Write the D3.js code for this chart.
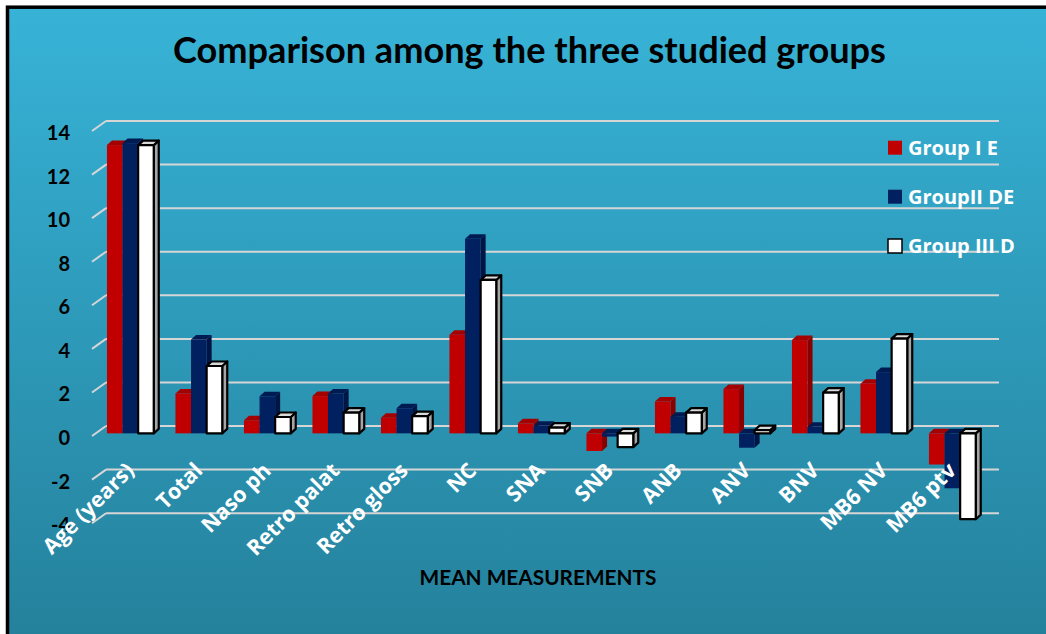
<!DOCTYPE html>
<html>
<head>
<meta charset="utf-8">
<script src="https://cdn.jsdelivr.net/npm/d3@7"></script>
<style>
  html, body { margin: 0; padding: 0; background: #ffffff; }
  svg { display: block; }
</style>
</head>
<body>
<div id="chart"></div>
<script>
// Mean measurements for the three studied groups
const categories = ["Age (years)", "Total", "Naso ph", "Retro palat", "Retro gloss", "NC",
                    "SNA", "SNB", "ANB", "ANV", "BNV", "MB6 NV", "MB6 ptv"];
const seriesNames = ["Group I E", "GroupII DE", "Group III D"];
const groupI   = [13.23, 1.83, 0.60, 1.71, 0.72, 4.53, 0.46, -0.81, 1.46, 2.03, 4.28, 2.28, -1.43];
const groupII  = [13.32, 4.31, 1.70, 1.83, 1.15, 8.93, 0.35, -0.15, 0.76, -0.66, 0.30, 2.81, -2.52];
const groupIII = [13.23, 3.09, 0.75, 0.95, 0.79, 7.04, 0.26, -0.63, 0.95, 0.15, 1.87, 4.35, -3.94];
const yTicks = [-4, -2, 0, 2, 4, 6, 8, 10, 12, 14];

const seriesValues = [groupI, groupII, groupIII];

const W = 1046, H = 634;
const svg = d3.select("#chart").append("svg").attr("width", W).attr("height", H);

// background panel with vertical gradient and black frame
const defs = svg.append("defs");
const grad = defs.append("linearGradient").attr("id", "bg").attr("x1", 0).attr("y1", 0).attr("x2", 0).attr("y2", 1);
grad.append("stop").attr("offset", "0%").attr("stop-color", "#37b3d7");
grad.append("stop").attr("offset", "100%").attr("stop-color", "#24809b");
svg.append("rect").attr("x", 7.5).attr("y", 7.2).attr("width", W + 10).attr("height", H + 10)
  .attr("fill", "url(#bg)").attr("stroke", "#000").attr("stroke-width", 3.5);

// scales
const x0 = d3.scaleBand().domain(categories).range([96.1, 986.6]).paddingInner(0.317).paddingOuter(0.1585);
const x1 = d3.scaleBand().domain(seriesNames).range([0, x0.bandwidth()]);
const y = d3.scaleLinear().domain([-4, 14]).range([513.2, 121]);

// pseudo-3D offsets
const FRONT = 7.3;          // front face sits forward of the back wall
const DX = 5, DY = 4.5;     // bar depth
const WALL_X0 = 106, WALL_X1 = 999, FLOOR_DX = 14, FLOOR_DY = 10;

const styles = [
  { front: "#c00000", top: "#a40000", side: "#880000", stroke: "none" },
  { front: "#002060", top: "#001a52", side: "#001544", stroke: "none" },
  { front: "#ffffff", top: "#d9d9d9", side: "#a6a6a6", stroke: "#000000" }
];

// gridlines on back wall plus the short diagonal to the front edge
const grid = svg.append("g").attr("stroke", "#d6d6d6").attr("stroke-width", 2).attr("fill", "none");
yTicks.forEach(t => {
  grid.append("line").attr("x1", WALL_X0).attr("x2", WALL_X1).attr("y1", y(t)).attr("y2", y(t));
  grid.append("line").attr("x1", WALL_X0 - FLOOR_DX).attr("y1", y(t) + FLOOR_DY)
    .attr("x2", WALL_X0).attr("y2", y(t));
});

// y tick labels
const yLab = svg.append("g").attr("font-family", "Lato, sans-serif").attr("font-weight", 700)
  .attr("font-size", 20).attr("fill", "#000").attr("text-anchor", "end");
yTicks.forEach(t => {
  yLab.append("text").attr("x", 70).attr("y", y(t) + 12).attr("dy", "0.35em").text(t);
});

// bars
const bars = svg.append("g");
categories.forEach((c, ci) => {
  seriesNames.forEach((s, si) => {
    const v = seriesValues[si][ci];
    const st = styles[si];
    const xl = x0(c) + x1(s);
    const w = x1.bandwidth();
    const yv = y(v) + FRONT, yz = y(0) + FRONT;
    const top = Math.min(yv, yz), bot = Math.max(yv, yz);
    const g = bars.append("g").attr("stroke", st.stroke).attr("stroke-width", 2.2)
      .attr("stroke-linejoin", "round");
    g.append("polygon").attr("fill", st.side)
      .attr("points", [[xl + w, top], [xl + w + DX, top - DY], [xl + w + DX, bot - DY], [xl + w, bot]].join(" "));
    g.append("polygon").attr("fill", st.top)
      .attr("points", [[xl, top], [xl + DX, top - DY], [xl + w + DX, top - DY], [xl + w, top]].join(" "));
    g.append("rect").attr("fill", st.front).attr("x", xl).attr("y", top)
      .attr("width", w).attr("height", Math.max(bot - top, 0.01));
  });
});

// category labels, rotated
const xLab = svg.append("g").attr("font-family", "'Open Sans', sans-serif").attr("font-weight", 700)
  .attr("font-size", 21.5).attr("fill", "#ffffff").attr("text-anchor", "end");
categories.forEach(c => {
  const cx = x0(c) + x0.bandwidth() / 2 - 6;
  xLab.append("text").attr("transform", `translate(${cx},461) rotate(-45)`)
    .attr("dy", "0.72em").text(c);
});

// legend
const legend = svg.append("g");
const legendY = [147.7, 196.7, 246];
seriesNames.forEach((s, i) => {
  legend.append("rect").attr("x", 888).attr("y", legendY[i] - 7).attr("width", 14).attr("height", 14)
    .attr("fill", styles[i].front).attr("stroke", styles[i].stroke).attr("stroke-width", 1.5);
  legend.append("text").attr("x", 908).attr("y", legendY[i]).attr("dy", "0.36em")
    .attr("font-family", "'Open Sans', sans-serif").attr("font-weight", 700).attr("font-size", 20)
    .attr("fill", "#ffffff").text(s);
});

// size a text so it spans the given width
function fitWidth(sel, target) {
  const w = sel.node().getComputedTextLength();
  const fs = parseFloat(sel.attr("font-size"));
  sel.attr("font-size", fs * target / w);
}

// title
const title = svg.append("text").attr("x", 529.5).attr("y", 63).attr("text-anchor", "middle")
  .attr("font-family", "Lato, sans-serif").attr("font-weight", 700).attr("font-size", 34)
  .attr("fill", "#000").text("Comparison among the three studied groups");
fitWidth(title, 713);

// axis title
const axTitle = svg.append("text").attr("x", 538).attr("y", 585).attr("text-anchor", "middle")
  .attr("font-family", "Lato, sans-serif").attr("font-weight", 700).attr("font-size", 20)
  .attr("fill", "#000").text("MEAN MEASUREMENTS");
fitWidth(axTitle, 237);
</script>
</body>
</html>
